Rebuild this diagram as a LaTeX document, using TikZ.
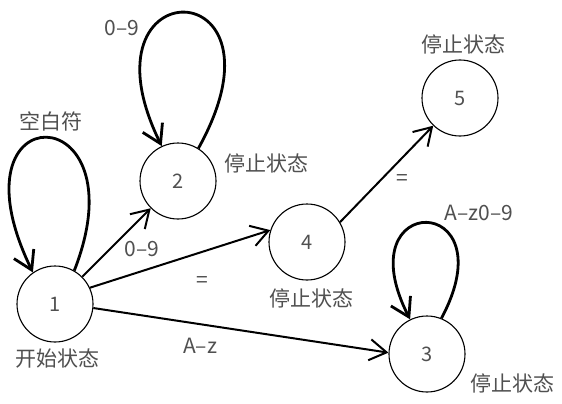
\documentclass[tikz,border=0pt]{standalone}
\usepackage{fontspec}
\setmainfont{Noto Sans CJK SC}
\usetikzlibrary{arrows.meta}
\definecolor{txt}{HTML}{505050}
\begin{document}
\begin{tikzpicture}[x=1pt,y=-1pt,
  state/.style={circle,draw,line width=1.1pt,minimum size=76pt,inner sep=0pt,text=txt,font=\fontsize{20}{20}\selectfont},
  lbl/.style={text=txt,font=\fontsize{21}{21}\selectfont,inner sep=0pt},
  edge/.style={line width=2pt,-{Straight Barb[length=17pt,width=21pt]}},
  loopedge/.style={line width=2.8pt,-{Straight Barb[length=18pt,width=22pt]}}]
\fill[white] (0,0) rectangle (562,404);
\useasboundingbox (0,0) rectangle (562,404);
% states
\node[state] (n1) at (55,304) {1};
\node[state] (n2) at (178,181) {2};
\node[state] (n4) at (307,242) {4};
\node[state] (n5) at (460,98) {5};
\node[state] (n3) at (427,354) {3};
% loops
\draw[loopedge] (n1.60) .. controls +(69,-176) and +(-88,-181) .. (n1.125);
\draw[loopedge] (n2.58) .. controls +(100,-180) and +(-88,-179) .. (n2.115);
\draw[loopedge] (n3.68) .. controls +(68,-127) and +(-66,-129) .. (n3.116);
% edges
\draw[edge] (n1) -- (n2);
\draw[edge] (n1.25) -- (n4.162);
\draw[edge] (n1.-6) -- (n3.178);
\draw[edge] (n4.31) -- (n5.226);
% labels
\node[lbl] (l1) at (51,121) {空白符};
\node[lbl] (l2) at (122,28) {0–9};
\node[lbl] (l3) at (266,163) {停止状态};
\node[lbl] (l4) at (142,249) {0–9};
\node[lbl] (l5) at (202,282) {=};
\node[lbl] (l6) at (58,359) {开始状态};
\node[lbl] (l7) at (200,346) {A–z};
\node[lbl] (l8) at (311,298) {停止状态};
\node[lbl] (l9) at (463,44) {停止状态};
\node[lbl] (l10) at (402,180) {=};
\node[lbl] (l11) at (479,213) {A–z0–9};
\node[lbl] (l12) at (512,383) {停止状态};
\end{tikzpicture}
\end{document}
